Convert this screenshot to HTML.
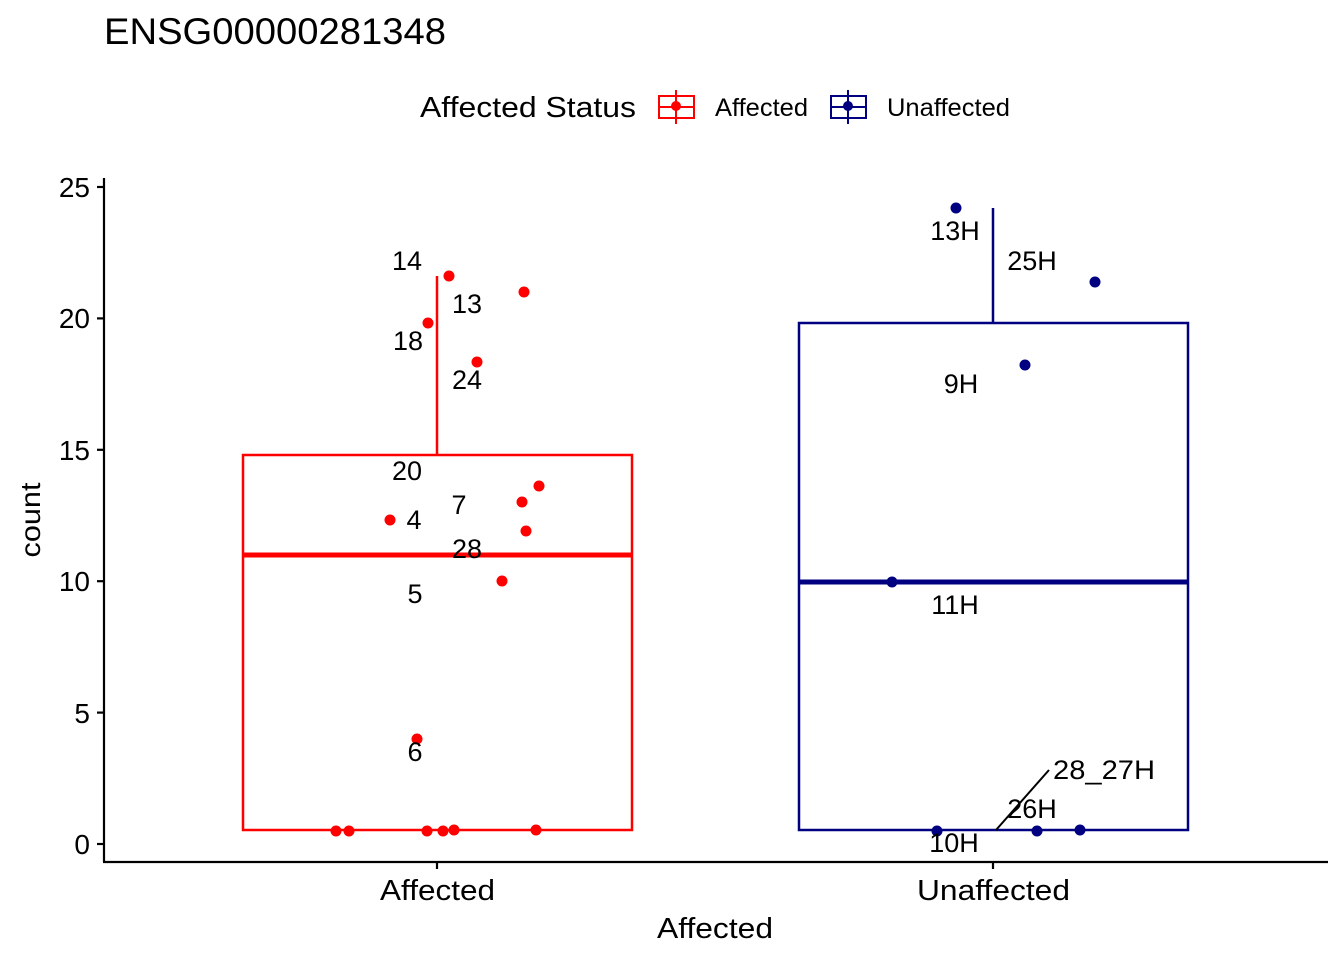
<!DOCTYPE html>
<html><head><meta charset="utf-8"><style>html,body{margin:0;padding:0;background:#fff}</style></head>
<body>
<svg width="1344" height="960" xmlns="http://www.w3.org/2000/svg" font-family="Liberation Sans, Arial, sans-serif">
<rect width="1344" height="960" fill="#fff"/>
<text x="104" y="44" font-size="37" textLength="342" lengthAdjust="spacingAndGlyphs">ENSG00000281348</text>
<!-- legend -->
<text x="420" y="117" font-size="28.5" textLength="216" lengthAdjust="spacingAndGlyphs">Affected Status</text>
<rect x="659" y="96" width="35" height="22" fill="none" stroke="#f00" stroke-width="2"/>
<line x1="676" y1="90" x2="676" y2="124" stroke="#f00" stroke-width="2"/>
<line x1="659" y1="107" x2="694" y2="107" stroke="#f00" stroke-width="2"/>
<circle cx="676" cy="106" r="5" fill="#f00"/>
<text x="715" y="116" font-size="25" textLength="93" lengthAdjust="spacingAndGlyphs">Affected</text>
<rect x="831" y="96" width="35" height="22" fill="none" stroke="#000080" stroke-width="2"/>
<line x1="848" y1="90" x2="848" y2="124" stroke="#000080" stroke-width="2"/>
<line x1="831" y1="107" x2="866" y2="107" stroke="#000080" stroke-width="2"/>
<circle cx="848" cy="106" r="5" fill="#000080"/>
<text x="887" y="116" font-size="25" textLength="123" lengthAdjust="spacingAndGlyphs">Unaffected</text>
<!-- axes -->
<g stroke="#000" stroke-width="2.2">
<line x1="104" y1="178" x2="104" y2="862"/>
<line x1="103" y1="862" x2="1328" y2="862"/>
<line x1="97" y1="844" x2="104" y2="844"/><line x1="97" y1="712.6" x2="104" y2="712.6"/>
<line x1="97" y1="581.2" x2="104" y2="581.2"/><line x1="97" y1="449.8" x2="104" y2="449.8"/>
<line x1="97" y1="318.4" x2="104" y2="318.4"/><line x1="97" y1="187" x2="104" y2="187"/>
<line x1="437" y1="862" x2="437" y2="869"/><line x1="993" y1="862" x2="993" y2="869"/>
</g>
<g font-size="28" text-anchor="end">
<text x="90" y="854">0</text><text x="90" y="723">5</text><text x="90" y="591">10</text>
<text x="90" y="460">15</text><text x="90" y="328">20</text><text x="90" y="197">25</text>
</g>
<g font-size="29">
<text x="380" y="900" textLength="115" lengthAdjust="spacingAndGlyphs">Affected</text>
<text x="917" y="900" textLength="153" lengthAdjust="spacingAndGlyphs">Unaffected</text>
<text x="657" y="938" textLength="116" lengthAdjust="spacingAndGlyphs">Affected</text>
</g>
<text transform="translate(40,520) rotate(-90)" font-size="28" text-anchor="middle" textLength="75" lengthAdjust="spacingAndGlyphs">count</text>
<!-- affected box -->
<g stroke="#f00" fill="none">
<rect x="243" y="455" width="389" height="375" stroke-width="2.5"/>
<line x1="437" y1="455" x2="437" y2="276" stroke-width="2.5"/>
<line x1="243" y1="555" x2="632" y2="555" stroke-width="5"/>
</g>
<g fill="#f00">
<circle cx="449" cy="276" r="5.5"/><circle cx="524" cy="292" r="5.5"/><circle cx="428" cy="323" r="5.5"/>
<circle cx="477" cy="362" r="5.5"/><circle cx="539" cy="486" r="5.5"/><circle cx="522" cy="502" r="5.5"/>
<circle cx="390" cy="520" r="5.5"/><circle cx="526" cy="531" r="5.5"/><circle cx="502" cy="581" r="5.5"/>
<circle cx="417" cy="739" r="5.5"/>
<circle cx="336" cy="831" r="5.5"/><circle cx="349" cy="831" r="5.5"/><circle cx="427" cy="831" r="5.5"/>
<circle cx="443" cy="831" r="5.5"/><circle cx="454" cy="830" r="5.5"/><circle cx="536" cy="830" r="5.5"/>
</g>
<g font-size="27" text-anchor="middle">
<text x="407" y="270">14</text><text x="467" y="313">13</text><text x="408" y="350">18</text>
<text x="467" y="389">24</text><text x="407" y="480">20</text><text x="459" y="514">7</text>
<text x="414" y="529">4</text><text x="467" y="558">28</text><text x="415" y="603">5</text>
<text x="415" y="761">6</text>
</g>
<!-- unaffected box -->
<g stroke="#000080" fill="none">
<rect x="799" y="323" width="389" height="507" stroke-width="2.5"/>
<line x1="993" y1="323" x2="993" y2="208" stroke-width="2.5"/>
<line x1="799" y1="582" x2="1188" y2="582" stroke-width="5"/>
</g>
<g fill="#000080">
<circle cx="956" cy="208" r="5.5"/><circle cx="1095" cy="282" r="5.5"/><circle cx="1025" cy="365" r="5.5"/>
<circle cx="892" cy="582" r="5.5"/><circle cx="937" cy="831" r="5.5"/><circle cx="1037" cy="831" r="5.5"/>
<circle cx="1080" cy="830" r="5.5"/>
</g>
<line x1="996" y1="830" x2="1049" y2="770" stroke="#000" stroke-width="2"/>
<g font-size="27" text-anchor="middle">
<text x="955" y="240">13H</text><text x="1032" y="270">25H</text><text x="961" y="393">9H</text>
<text x="955" y="614">11H</text><text x="1032" y="818">26H</text>
<text x="954" y="852">10H</text>
</g>
<text x="1053" y="779" font-size="27" textLength="102" lengthAdjust="spacingAndGlyphs">28_27H</text>
</svg>
</body></html>
